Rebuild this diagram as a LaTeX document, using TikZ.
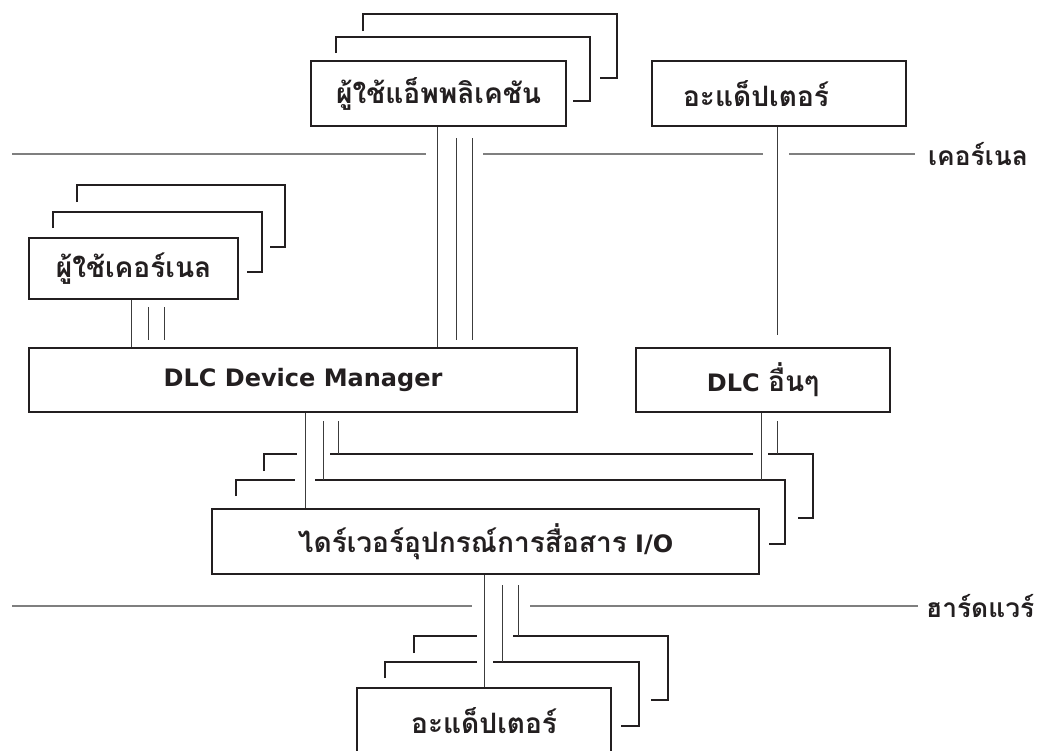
\documentclass[tikz,border=0pt]{standalone}
\usepackage{fontspec}
\setmainfont{DejaVu Sans}
\newfontfamily\thaifont[Script=Thai,Scale=1.17]{Loma}
\definecolor{boxline}{HTML}{231F20}
\definecolor{linkgray}{HTML}{3C3C3C}
\definecolor{sepgray}{HTML}{7F7F7F}
\newcommand{\boxfont}{\fontsize{24}{28}\selectfont\bfseries}
\newcommand{\layerfont}{\fontsize{22.5}{26}\selectfont\bfseries}
\tikzset{
	box/.style={draw=boxline, line width=2.2pt, fill=white, inner sep=0pt, font=\boxfont, text=boxline, anchor=north west},
	frame/.style={draw=boxline, line width=2.2pt},
	link/.style={draw=linkgray, line width=1pt},
	layer/.style={draw=sepgray, line width=1.6pt},
	layerlabel/.style={anchor=west, inner sep=0pt, font=\layerfont\thaifont, text=boxline},
}
\begin{document}
\begin{tikzpicture}[x=1pt, y=-1pt]
%			\draw[step=50pt,red,very thin] (0,0) grid (1038,750);
			\useasboundingbox (0,0) rectangle (1038,750);

			\draw[frame](336,53)--(336,37)--(590,37)--(590,101)--(573,101);
			\draw[frame](363,31)--(363,14)--(617,14)--(617,78)--(600,78);
			\node[box, minimum width=255pt, minimum height=65pt] (app) at (310,60) {\thaifont ผู้ใช้แอ็พพลิเคชัน};

			\node[box, minimum width=254pt, minimum height=65pt, text width=192pt, inner xsep=31pt, align=left] (adapterTop) at (651,60) {\thaifont อะแด็ปเตอร์};

			\draw[frame](53,228)--(53,212)--(262,212)--(262,272)--(247,272);
			\draw[frame](77,202)--(77,185)--(285,185)--(285,247)--(270,247);
			\node[box, minimum width=209pt, minimum height=61pt] (kernelUser) at (28,237) {\thaifont ผู้ใช้เคอร์เนล};

			\node[box, minimum width=548pt, minimum height=64pt] (dlcManager) at (28,347) {DLC Device Manager};
			\node[box, minimum width=254pt, minimum height=64pt] (dlcOther) at (635,347) {DLC {\thaifont อื่นๆ}};

			\draw[frame](236,496)--(236,480)--(295,480);
			\draw[frame](315,480)--(785,480)--(785,544)--(769,544);
			\draw[frame](264,471)--(264,454)--(297,454);
			\draw[frame](330,454)--(753,454);
			\draw[frame](768,454)--(813,454)--(813,518)--(798,518);
			\node[box, minimum width=547pt, minimum height=65pt] (ioDriver) at (211,508) {{\thaifont ไดร์เวอร์อุปกรณ์การสื่อสาร} I/O};

			\draw[frame](385,678)--(385,662)--(477,662);
			\draw[frame](493,662)--(639,662)--(639,726)--(621,726);
			\draw[frame](414,653)--(414,636)--(477,636);
			\draw[frame](513,636)--(668,636)--(668,700)--(651,700);
			\node[box, minimum width=254pt, minimum height=65pt] (adapterBot) at (356,687) {\thaifont อะแด็ปเตอร์};

			\node[layerlabel] (kernelLbl) at (928,154) {เคอร์เนล};
			\draw[layer](12,154)--(426,154);
			\draw[layer](483,154)--(763,154);
			\draw[layer](789,154)--(kernelLbl.west -| 915,0);

			\node[layerlabel] (hardwareLbl) at (926,606) {ฮาร์ดแวร์};
			\draw[layer](12,606)--(472,606);
			\draw[layer](530,606)--(hardwareLbl.west -| 918,0);

			\draw[link](app.south -| 437,0)--(dlcManager.north -| 437,0);
			\draw[link, shorten <=11pt, shorten >=7pt](app.south -| 456,0)--(dlcManager.north -| 456,0);
			\draw[link, shorten <=11pt, shorten >=7pt](app.south -| 472,0)--(dlcManager.north -| 472,0);

			\draw[link](kernelUser.south -| 131,0)--(dlcManager.north -| 131,0);
			\draw[link, shorten <=7pt, shorten >=7pt](kernelUser.south -| 148,0)--(dlcManager.north -| 148,0);
			\draw[link, shorten <=7pt, shorten >=7pt](kernelUser.south -| 164,0)--(dlcManager.north -| 164,0);

			\draw[link, shorten >=12pt](adapterTop.south -| 777,0)--(dlcOther.north -| 777,0);

			\draw[link](dlcManager.south -| 305,0)--(ioDriver.north -| 305,0);
			\draw[link, shorten <=8pt, shorten >=28pt](dlcManager.south -| 323,0)--(ioDriver.north -| 323,0);
			\draw[link, shorten <=8pt, shorten >=54pt](dlcManager.south -| 338,0)--(ioDriver.north -| 338,0);

			\draw[link, shorten >=28pt](dlcOther.south -| 761,0)--(ioDriver.north -| 761,0);
			\draw[link, shorten <=8pt, shorten >=54pt](dlcOther.south -| 777,0)--(ioDriver.north -| 777,0);

			\draw[link](ioDriver.south -| 484,0)--(adapterBot.north -| 484,0);
			\draw[link, shorten <=10pt, shorten >=25pt](ioDriver.south -| 502,0)--(adapterBot.north -| 502,0);
			\draw[link, shorten <=10pt, shorten >=51pt](ioDriver.south -| 518,0)--(adapterBot.north -| 518,0);
	\end{tikzpicture}
\end{document}
